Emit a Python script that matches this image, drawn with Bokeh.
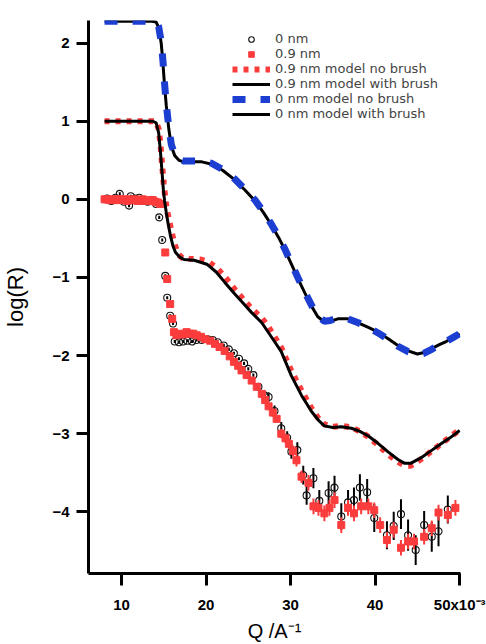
from bokeh.plotting import figure
from bokeh.models import Range1d, FixedTicker, Legend, LegendItem
from bokeh.embed import file_html
from bokeh.resources import INLINE

# ---------------- data (Q in units of 1e-3 A^-1, log10 R) ----------------
# 0 nm measured reflectivity (open circles)
q_0nm = [8.3, 8.8, 9.3, 9.8, 10.3, 10.9, 11.1, 11.6, 12.1, 12.6, 13.1, 13.6, 14.1,
         14.47, 14.82, 15.18, 15.41, 15.76, 16.1,
         16.3, 16.8, 17.3, 17.8, 18.35, 18.9, 19.5, 20.2, 20.8, 21.4, 22.1, 22.7,
         23.3, 23.9, 24.5, 25.0, 25.6, 26.2, 26.9, 27.4, 28.1, 28.9, 29.6, 30.1,
         30.8, 31.5, 31.9, 32.7, 33.4, 34.5, 35.2, 36.0, 36.8, 37.5, 38.2, 39.06,
         39.9, 41.4, 42.2, 43.06, 43.9, 44.8, 45.8, 46.7, 47.5, 48.6]
r_0nm = [0.01, -0.02, 0.02, 0.07, -0.03, -0.08, 0.04, 0.01, 0.02, -0.02, -0.03, -0.01, -0.06,
         -0.23, -0.52, -0.98, -1.26, -1.49, -1.59,
         -1.82, -1.83, -1.82, -1.81, -1.82, -1.80, -1.80, -1.79, -1.80, -1.83, -1.87, -1.92,
         -1.97, -2.04, -2.10, -2.17, -2.25, -2.40, -2.51, -2.53, -2.71, -2.93, -3.05, -3.23,
         -3.21, -3.53, -3.79, -3.57, -3.86, -3.76, -3.69, -4.06, -3.88, -3.85, -3.69, -3.75,
         -4.08, -4.30, -4.18, -4.03, -4.30, -4.49, -4.17, -4.32, -4.25, -3.97]
e_0nm = [0.02] * 13 + [0.02] * 6 + [0.02] * 17 + [0.04, 0.05, 0.06, 0.07, 0.08, 0.08, 0.09,
         0.10, 0.12, 0.12, 0.13, 0.14, 0.15, 0.15, 0.17, 0.16, 0.16, 0.17, 0.17,
         0.18, 0.18, 0.18, 0.19, 0.20, 0.19, 0.18, 0.19, 0.19, 0.18]

# 0.9 nm measured reflectivity (red squares)
q_09nm = [8.0, 8.3, 8.6, 8.9, 9.2, 9.5, 9.8, 10.1, 10.4, 10.7, 11.0, 11.3, 11.6, 11.9,
          12.2, 12.5, 12.8, 13.1, 13.4, 13.7, 14.0, 14.3, 14.6,
          15.18, 15.41, 15.76, 16.0, 16.2, 16.5, 16.9, 17.3, 17.7, 18.1, 18.5, 18.9,
          19.4, 19.9, 20.5, 21.06, 21.6, 22.2, 22.8, 23.3, 23.8, 24.2, 24.8, 25.4,
          26.0, 26.6, 27.0, 27.4, 27.9, 28.35, 28.9, 29.4, 29.8, 30.3, 30.7, 31.3,
          32.12, 32.71, 33.3, 34.0, 34.6, 35.2, 36.0, 36.8, 37.5, 38.35, 39.2, 39.9,
          40.6, 41.4, 42.2, 43.06, 43.9, 44.6, 45.8, 46.7, 47.5, 48.6, 49.5]
r_09nm = [0.0, 0.0, -0.01, 0.0, -0.01, 0.0, 0.0, -0.01, 0.0, -0.02, 0.0, -0.01, 0.0, -0.02,
          -0.01, 0.0, -0.02, -0.01, -0.02, -0.01, -0.03, -0.04, -0.06,
          -0.68, -1.02, -1.34, -1.53, -1.70, -1.74, -1.72, -1.73, -1.70, -1.72, -1.72, -1.74,
          -1.76, -1.79, -1.81, -1.85, -1.89, -1.94, -2.01, -2.08, -2.13, -2.19, -2.25, -2.32,
          -2.40, -2.49, -2.57, -2.65, -2.73, -2.81, -3.00, -3.06, -3.13, -3.22, -3.34, -3.55,
          -3.63, -3.93, -3.95, -4.02, -3.95, -3.85, -4.17, -3.95, -4.02, -3.93, -3.93, -3.98,
          -4.17, -4.36, -4.23, -4.46, -4.38, -4.38, -4.32, -4.21, -4.01, -4.04, -3.95]
e_09nm = [0.01] * 23 + [0.02] * 24 + [0.03, 0.03, 0.04, 0.04, 0.05, 0.05, 0.06, 0.06,
          0.07, 0.07, 0.08, 0.08] + [0.1] * 23

# 0.9 nm model with brush (black solid)
qm_09_brush = [8.0, 13.7, 14.1, 14.4, 14.6, 14.8, 14.95, 15.1, 15.3, 15.55, 15.8, 16.1,
               16.4, 16.9, 17.4, 18.6, 20.1, 21.2, 22.2, 23.3, 24.4, 25.4, 26.6, 28.1,
               28.9, 30.1, 31.3, 32.5, 33.4, 34.0, 35.0, 36.0, 37.2, 38.2, 39.2, 40.3,
               41.5, 42.7, 43.5, 44.2, 45.4, 46.6, 47.8, 48.9, 50.0]
rm_09_brush = [1.0, 1.0, 0.98, 0.85, 0.62, 0.35, 0.13, -0.02, -0.17, -0.33, -0.47, -0.60,
               -0.68, -0.74, -0.77, -0.78, -0.83, -0.93, -1.06, -1.20, -1.33, -1.45, -1.58, -1.82,
               -1.95, -2.26, -2.51, -2.72, -2.84, -2.90, -2.92, -2.91, -2.93, -2.97, -3.03, -3.12,
               -3.23, -3.33, -3.38, -3.38, -3.31, -3.22, -3.13, -3.05, -2.96]

# 0.9 nm model no brush (red dotted)
qm_09_nobrush = [8.0, 13.7, 14.1, 14.4, 14.6, 14.8, 15.0, 15.2, 15.4, 15.7, 16.0, 16.3,
                 16.7, 17.2, 18.0, 19.3, 20.3, 21.3, 22.3, 23.3, 24.4, 25.4, 26.6, 27.3,
                 28.1, 28.9, 30.1, 31.3, 32.5, 33.4, 34.0, 35.0, 36.0, 37.2, 38.2, 39.2,
                 40.3, 41.5, 42.7, 43.5, 44.2, 45.4, 46.6, 47.8, 48.9, 50.0]
rm_09_nobrush = [1.0, 1.0, 0.99, 0.90, 0.72, 0.45, 0.20, 0.0, -0.15, -0.30, -0.45, -0.58,
                 -0.70, -0.75, -0.76, -0.77, -0.80, -0.88, -1.00, -1.14, -1.28, -1.40, -1.52, -1.62,
                 -1.76, -1.90, -2.20, -2.45, -2.68, -2.82, -2.88, -2.91, -2.90, -2.92, -2.97, -3.04,
                 -3.14, -3.26, -3.36, -3.41, -3.41, -3.33, -3.23, -3.13, -3.04, -2.95]

# 0 nm model with brush (black solid)
qm_0_brush = [8.0, 13.6, 14.1, 14.4, 14.7, 14.9, 15.1, 15.3, 15.6, 15.9, 16.3, 16.8,
              17.4, 18.35, 19.5, 20.7, 22.0, 23.4, 24.6, 25.8, 26.8, 27.8, 28.6, 29.3,
              30.1, 30.9, 31.7, 32.5, 33.2, 34.0, 34.7, 35.6, 36.8, 38.0, 39.2, 40.35,
              41.5, 42.7, 43.9, 45.0, 45.8, 46.7, 47.6, 48.4, 49.2, 50.0]
rm_0_brush = [2.28, 2.28, 2.27, 2.20, 2.00, 1.75, 1.45, 1.20, 0.90, 0.68, 0.56, 0.50,
              0.48, 0.48, 0.48, 0.45, 0.37, 0.25, 0.12, -0.02, -0.17, -0.34, -0.49, -0.64,
              -0.83, -1.02, -1.20, -1.37, -1.50, -1.57, -1.56, -1.53, -1.53, -1.58, -1.64, -1.70,
              -1.78, -1.87, -1.94, -1.98, -1.96, -1.91, -1.86, -1.82, -1.77, -1.72]

# 0 nm model no brush (blue dashed)
qm_0_nobrush = [8.0, 13.6, 14.1, 14.4, 14.7, 14.9, 15.1, 15.3, 15.6, 15.9, 16.3, 16.8,
                17.4, 18.35, 19.5, 20.7, 22.0, 23.4, 24.6, 25.8, 26.8, 27.8, 28.6, 29.3,
                30.1, 30.9, 31.7, 32.5, 33.2, 34.0, 34.7, 35.6, 36.8, 38.0, 39.2, 40.35,
                41.5, 42.7, 43.9, 45.0, 45.8, 46.7, 47.6, 48.4, 49.2, 50.0]
rm_0_nobrush = [2.28, 2.28, 2.27, 2.21, 2.02, 1.78, 1.48, 1.22, 0.92, 0.70, 0.57, 0.51,
                0.49, 0.49, 0.49, 0.46, 0.38, 0.26, 0.13, -0.01, -0.16, -0.33, -0.48, -0.63,
                -0.82, -1.01, -1.19, -1.36, -1.49, -1.56, -1.55, -1.52, -1.53, -1.58, -1.64, -1.71,
                -1.79, -1.88, -1.95, -1.99, -1.97, -1.92, -1.86, -1.82, -1.77, -1.72]

x_ticks = [10, 20, 30, 40, 50]
x_tick_labels = {50: "50x10\u207b\u00b3"}
y_ticks = [-4, -3, -2, -1, 0, 1, 2]

RED = "#fb3c3c"
BLUE = "#1c3fd2"
FONT = "Liberation Sans"

p = figure(width=486, height=644, x_range=Range1d(6.1, 50.1), y_range=Range1d(-4.79, 2.29),
           output_backend="svg", toolbar_location=None,
           min_border_left=86, min_border_right=26, min_border_top=20, min_border_bottom=67)
p.outline_line_color = None
p.grid.visible = False
p.background_fill_color = "white"

# axes
for ax in (p.xaxis[0], p.yaxis[0]):
    ax.axis_line_width = 3
    ax.axis_line_color = "black"
    ax.major_tick_line_width = 3
    ax.major_tick_out = 12
    ax.major_tick_in = 0
    ax.minor_tick_out = 0
    ax.minor_tick_in = 0
    ax.major_label_text_font = FONT
    ax.major_label_text_font_style = "bold"
    ax.major_label_text_font_size = "15px"
    ax.major_label_text_color = "black"
    ax.axis_label_text_font = FONT
    ax.axis_label_text_font_style = "normal"
    ax.axis_label_text_color = "black"

p.xaxis[0].ticker = FixedTicker(ticks=x_ticks)
p.yaxis[0].ticker = FixedTicker(ticks=y_ticks)
p.xaxis[0].major_label_standoff = 10
p.yaxis[0].major_label_standoff = 7
p.xaxis[0].major_label_overrides = x_tick_labels
p.xaxis[0].axis_label = "Q /A\u207b\u00b9"
p.xaxis[0].axis_label_text_font_size = "20px"
p.xaxis[0].axis_label_standoff = 4
p.yaxis[0].axis_label = "log(R)"
p.yaxis[0].axis_label_text_font_size = "22px"
p.yaxis[0].axis_label_standoff = 21

# data: 0 nm circles with error bars
lo = [r - e for r, e in zip(r_0nm, e_0nm)]
hi = [r + e for r, e in zip(r_0nm, e_0nm)]
p.segment(x0=q_0nm, y0=lo, x1=q_0nm, y1=hi, line_color="black", line_width=2)
r_c = p.scatter(q_0nm, r_0nm, marker="circle", size=7, fill_alpha=0,
                line_color="#111111", line_width=1.1)

# data: 0.9 nm squares with error bars
lo2 = [r - e for r, e in zip(r_09nm, e_09nm)]
hi2 = [r + e for r, e in zip(r_09nm, e_09nm)]
p.segment(x0=q_09nm, y0=lo2, x1=q_09nm, y1=hi2, line_color=RED, line_width=2)
r_s = p.scatter(q_09nm, r_09nm, marker="square", size=7, fill_color=RED, line_color=RED)

# models
r_m09nb = p.line(qm_09_nobrush, rm_09_nobrush, line_color=RED, line_width=6, line_dash="5 6")
r_m09b = p.line(qm_09_brush, rm_09_brush, line_color="black", line_width=3)
r_m0b = p.line(qm_0_brush, rm_0_brush, line_color="black", line_width=3)
r_m0nb = p.line(qm_0_nobrush, rm_0_nobrush, line_color=BLUE, line_width=7, line_dash="13 15")

legend = Legend(items=[
    LegendItem(label="0 nm", renderers=[r_c]),
    LegendItem(label="0.9 nm", renderers=[r_s]),
    LegendItem(label="0.9 nm model no brush", renderers=[r_m09nb]),
    LegendItem(label="0.9 nm model with brush", renderers=[r_m09b]),
    LegendItem(label="0 nm model no brush", renderers=[r_m0nb]),
    LegendItem(label="0 nm model with brush", renderers=[r_m0b]),
], location=(144, 452), border_line_color=None, background_fill_alpha=0,
   padding=0, margin=0, spacing=0, label_standoff=5, glyph_width=38, glyph_height=14,
   label_height=14, label_text_font="DejaVu Sans", label_text_font_size="13px")
p.add_layout(legend)

open("out.html", "w").write(file_html(p, INLINE))
